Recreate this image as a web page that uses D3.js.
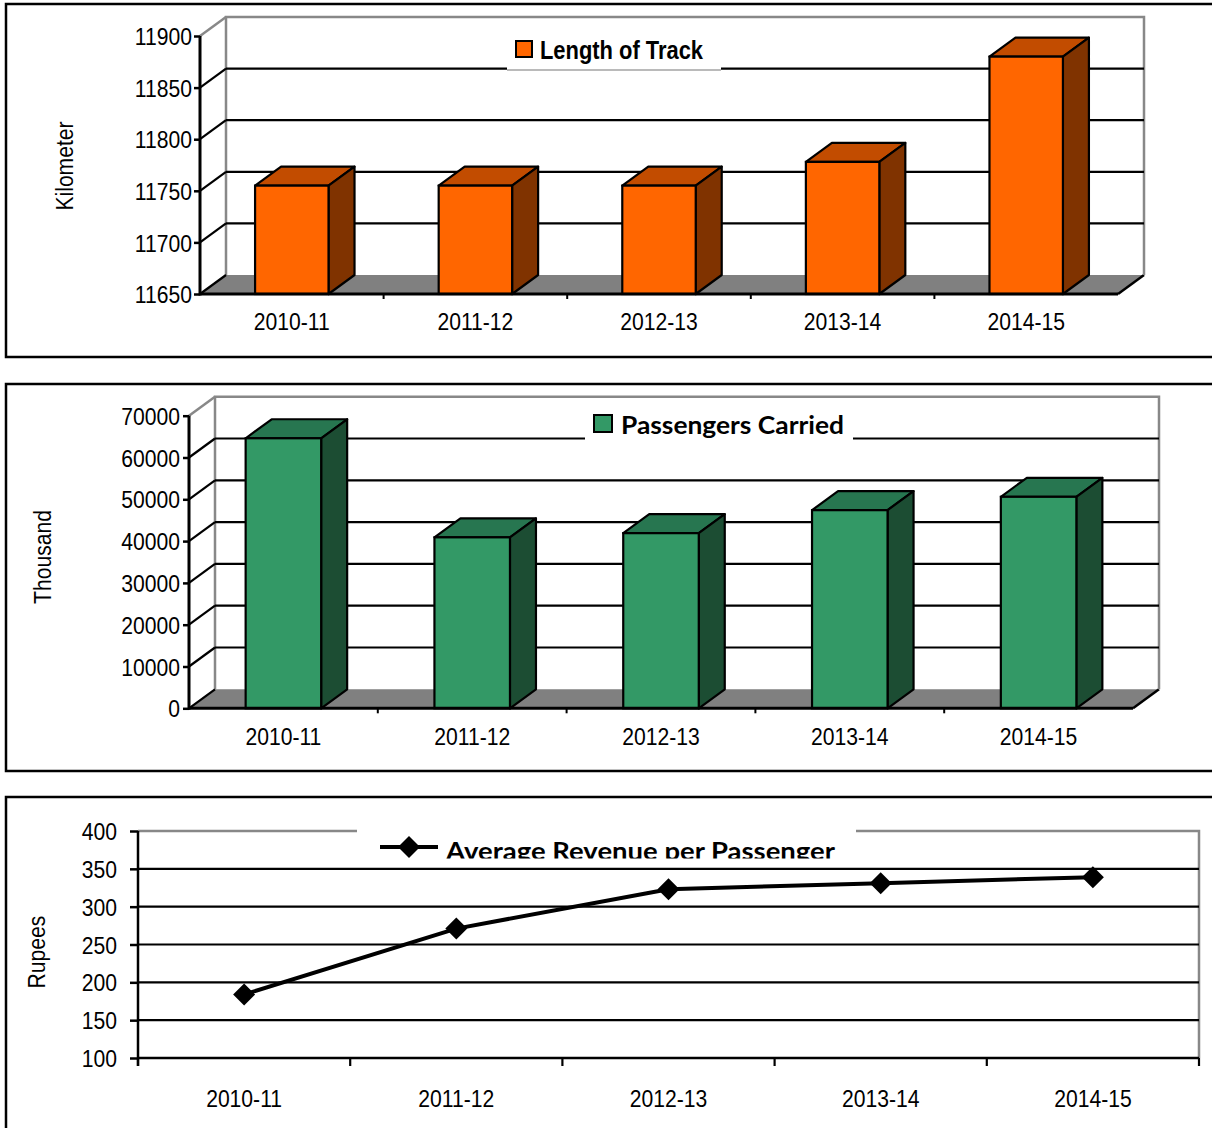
<!DOCTYPE html>
<html>
<head>
<meta charset="utf-8">
<script src="https://cdn.jsdelivr.net/npm/d3@7"></script>
<style>
  html, body { margin: 0; padding: 0; background: #fff; }
  svg { display: block; }
</style>
</head>
<body>
<script>
// ---- data ----
const years = ["2010-11", "2011-12", "2012-13", "2013-14", "2014-15"];
const trackLength = [11755, 11755, 11755, 11778, 11880];          // km
const passengersCarried = [64600, 40900, 41900, 47400, 50600];    // thousand
const revenuePerPassenger = [184, 271, 323, 331, 339];            // rupees
const trackTicks = [11650, 11700, 11750, 11800, 11850, 11900];
const passengerTicks = [0, 10000, 20000, 30000, 40000, 50000, 60000, 70000];
const revenueTicks = [100, 150, 200, 250, 300, 350, 400];

// ---- setup ----
const W = 1212, H = 1128;
const FONT = "'Liberation Sans', Arial, sans-serif";
const SX = 0.88;                       // condensed text
const svg = d3.select("body").append("svg").attr("width", W).attr("height", H);

function frame(y, h) {
  svg.append("rect").attr("x", 6).attr("y", y).attr("width", 1240).attr("height", h)
    .attr("fill", "none").attr("stroke", "#000").attr("stroke-width", 2.5);
}
function rotTitle(x, y, t) {
  svg.append("text").attr("transform", `translate(${x},${y}) rotate(-90) scale(${SX},1)`)
    .attr("text-anchor", "middle").attr("font-family", FONT).attr("font-size", 24)
    .attr("fill", "#000").text(t);
}
function styleLeftAxis(g, labelGap) {
  g.select(".domain").remove();
  g.selectAll(".tick line").attr("stroke", "#000").attr("stroke-width", 2.5);
  g.selectAll(".tick text")
    .attr("x", -labelGap / SX).attr("dy", "0.36em")
    .attr("transform", `scale(${SX},1)`)
    .attr("font-family", FONT).attr("font-size", 24).attr("fill", "#000");
}
function styleCatAxis(g, baselineOffset) {
  g.select(".domain").remove();
  g.selectAll(".tick line").remove();
  g.selectAll(".tick text")
    .attr("y", baselineOffset).attr("dy", 0)
    .attr("transform", `scale(${SX},1)`)
    .attr("font-family", FONT).attr("font-size", 24).attr("fill", "#000");
}

frame(4, 353);
frame(384, 387);
frame(797, 400);

// ---- 3D column chart ----
function columns3d(c) {
  const g = svg.append("g");
  const dx = 26, dy = 19;
  const y = d3.scaleLinear().domain([c.ticks[0], c.ticks[c.ticks.length - 1]]).range([c.yBase, c.yTop]);
  const xCat = d3.scaleBand().domain(years).range([c.x0, c.x1]);
  const x = d3.scaleBand().domain(years).range([c.x0, c.x1]).paddingInner(0.6).paddingOuter(0.3);
  const top = y(c.ticks[c.ticks.length - 1]);

  // floor
  g.append("polygon")
    .attr("points", [[c.x0, c.yBase], [c.x1, c.yBase], [c.x1 + dx, c.yBase - dy], [c.x0 + dx, c.yBase - dy]].join(" "))
    .attr("fill", "#808080").attr("stroke", "none");
  g.append("line").attr("x1", c.x0).attr("y1", c.yBase).attr("x2", c.x0 + dx).attr("y2", c.yBase - dy)
    .attr("stroke", "#a0a0a0").attr("stroke-width", 1.5);
  g.append("line").attr("x1", c.x1).attr("y1", c.yBase).attr("x2", c.x1 + dx).attr("y2", c.yBase - dy)
    .attr("stroke", "#000").attr("stroke-width", 2.5);

  // back wall edges
  g.append("path")
    .attr("d", `M${c.x0 + dx},${c.yBase - dy}V${top - dy}H${c.x1 + dx}V${c.yBase - dy}`)
    .attr("fill", "none").attr("stroke", "#888").attr("stroke-width", 2.5);
  g.append("line").attr("x1", c.x0).attr("y1", top).attr("x2", c.x0 + dx).attr("y2", top - dy)
    .attr("stroke", "#888").attr("stroke-width", 2.5);

  // gridlines on back and side walls
  c.ticks.slice(1, -1).forEach(t => {
    const yy = y(t);
    g.append("line").attr("x1", c.x0 + dx).attr("y1", yy - dy).attr("x2", c.x1 + dx).attr("y2", yy - dy)
      .attr("stroke", "#000").attr("stroke-width", 2.2);
    g.append("line").attr("x1", c.x0).attr("y1", yy).attr("x2", c.x0 + dx).attr("y2", yy - dy)
      .attr("stroke", "#000").attr("stroke-width", 2.2);
  });
  g.append("line").attr("x1", c.x0).attr("y1", c.yBase).attr("x2", c.x0 + dx).attr("y2", c.yBase - dy)
    .attr("stroke", "#000").attr("stroke-width", 2.2);

  // legend
  const L = c.legend;
  g.append("rect").attr("x", L.bx0).attr("y", L.by0).attr("width", L.bx1 - L.bx0).attr("height", L.by1 - L.by0)
    .attr("fill", "#fff");
  if (L.rule) {
    g.append("line").attr("x1", L.bx0).attr("y1", L.by1).attr("x2", L.bx1).attr("y2", L.by1)
      .attr("stroke", "#777").attr("stroke-width", 1.2);
  }
  g.append("rect").attr("x", L.sx).attr("y", L.sy).attr("width", L.sw).attr("height", L.sh)
    .attr("fill", c.front).attr("stroke", "#000").attr("stroke-width", 2);
  g.append("text").attr("x", L.tx).attr("y", L.ty)
    .attr("font-family", L.font).attr("font-weight", "bold").attr("font-size", L.size)
    .attr("textLength", L.tw).attr("lengthAdjust", "spacingAndGlyphs")
    .attr("fill", "#000").text(c.name);

  // columns
  const bw = x.bandwidth();
  const bars = g.selectAll("g.bar").data(years.map((d, i) => ({ year: d, v: c.values[i] })))
    .enter().append("g").attr("class", "bar");
  bars.append("polygon")
    .attr("points", d => {
      const bx = x(d.year), yt = y(d.v);
      return [[bx, yt], [bx + dx, yt - dy], [bx + bw + dx, yt - dy], [bx + bw, yt]].join(" ");
    })
    .attr("fill", c.top).attr("stroke", "#000").attr("stroke-width", 2.2).attr("stroke-linejoin", "round");
  bars.append("polygon")
    .attr("points", d => {
      const bx = x(d.year) + bw, yt = y(d.v);
      return [[bx, yt], [bx + dx, yt - dy], [bx + dx, c.yBase - dy], [bx, c.yBase]].join(" ");
    })
    .attr("fill", c.side).attr("stroke", "#000").attr("stroke-width", 2.2).attr("stroke-linejoin", "round");
  bars.append("rect")
    .attr("x", d => x(d.year)).attr("y", d => y(d.v))
    .attr("width", bw).attr("height", d => c.yBase - y(d.v))
    .attr("fill", c.front).attr("stroke", "#000").attr("stroke-width", 2.2);

  // front floor edge (category axis)
  g.append("line").attr("x1", c.x0).attr("y1", c.yBase).attr("x2", c.x1).attr("y2", c.yBase)
    .attr("stroke", "#000").attr("stroke-width", 3);
  years.slice(1).forEach(d => {
    g.append("line").attr("x1", xCat(d)).attr("y1", c.yBase).attr("x2", xCat(d)).attr("y2", c.yBase + 5)
      .attr("stroke", "#000").attr("stroke-width", 2);
  });
  const cat = g.append("g").attr("transform", `translate(0,${c.yBase})`)
    .call(d3.axisBottom(xCat).tickSize(0));
  styleCatAxis(cat, c.catBaseline - c.yBase);

  // value axis
  g.append("line").attr("x1", c.x0).attr("y1", top).attr("x2", c.x0).attr("y2", c.yBase + 1.5)
    .attr("stroke", "#000").attr("stroke-width", 3);
  const ax = g.append("g").attr("transform", `translate(${c.x0},0)`)
    .call(d3.axisLeft(y).tickValues(c.ticks).tickSize(6).tickFormat(d3.format("d")));
  styleLeftAxis(ax, c.labelGap);
}

columns3d({
  name: "Length of Track",
  values: trackLength, ticks: trackTicks,
  x0: 200, x1: 1118, yTop: 36, yBase: 294,
  front: "#ff6600", top: "#c24c00", side: "#803300",
  catBaseline: 330, labelGap: 8,
  legend: { bx0: 507, bx1: 721, by0: 26, by1: 70, rule: true,
            sx: 516, sy: 41, sw: 16, sh: 16,
            tx: 540, ty: 58.5, tw: 163, size: 25, font: FONT }
});
rotTitle(73, 166, "Kilometer");

columns3d({
  name: "Passengers Carried",
  values: passengersCarried, ticks: passengerTicks,
  x0: 189, x1: 1133, yTop: 415.7, yBase: 708.3,
  front: "#339966", top: "#277650", side: "#1c4d33",
  catBaseline: 745, labelGap: 9,
  legend: { bx0: 585, bx1: 853, by0: 405, by1: 441, rule: false,
            sx: 594, sy: 415, sw: 18, sh: 17,
            tx: 621, ty: 433.5, tw: 223, size: 25, font: "Lato, 'Open Sans', sans-serif" }
});
rotTitle(51, 557, "Thousand");

// ---- line chart ----
(function () {
  const x0 = 138, x1 = 1199, yTop = 831, yBase = 1058;
  const g = svg.append("g");
  const y = d3.scaleLinear().domain([100, 400]).range([yBase, yTop]);
  const x = d3.scaleBand().domain(years).range([x0, x1]);
  const cx = d => x(d) + x.bandwidth() / 2;

  // plot area border (top + right) and gridlines
  g.append("path").attr("d", `M${x0},${y(400)}H${x1}V${yBase}`)
    .attr("fill", "none").attr("stroke", "#888").attr("stroke-width", 2.5);
  revenueTicks.slice(1, -1).forEach(t => {
    g.append("line").attr("x1", x0).attr("y1", y(t)).attr("x2", x1).attr("y2", y(t))
      .attr("stroke", "#000").attr("stroke-width", 2.2);
  });

  // legend
  g.append("rect").attr("x", 357).attr("y", 822).attr("width", 499).attr("height", 36).attr("fill", "#fff");
  const clip = svg.append("clipPath").attr("id", "legclip");
  clip.append("rect").attr("x", 300).attr("y", 800).attr("width", 600).attr("height", 58.5);
  const leg = g.append("g").attr("clip-path", "url(#legclip)");
  leg.append("line").attr("x1", 380).attr("y1", 847).attr("x2", 438).attr("y2", 847)
    .attr("stroke", "#000").attr("stroke-width", 4);
  leg.append("path").attr("d", "M409,836L420,847L409,858L398,847Z").attr("fill", "#000");
  leg.append("text").attr("x", 446).attr("y", 859.5)
    .attr("font-family", "Lato, 'Open Sans', sans-serif").attr("font-weight", "bold").attr("font-size", 25)
    .attr("textLength", 389).attr("lengthAdjust", "spacingAndGlyphs")
    .attr("fill", "#000").text("Average Revenue per Passenger");

  // series
  const pts = years.map((d, i) => [cx(d), y(revenuePerPassenger[i])]);
  g.append("path").attr("d", d3.line()(pts)).attr("fill", "none")
    .attr("stroke", "#000").attr("stroke-width", 4).attr("stroke-linejoin", "round");
  g.selectAll("path.mk").data(pts).enter().append("path").attr("class", "mk")
    .attr("d", p => `M${p[0]},${p[1] - 11}L${p[0] + 11},${p[1]}L${p[0]},${p[1] + 11}L${p[0] - 11},${p[1]}Z`)
    .attr("fill", "#000");

  // axes
  g.append("line").attr("x1", x0).attr("y1", yBase).attr("x2", x1).attr("y2", yBase)
    .attr("stroke", "#000").attr("stroke-width", 2.5);
  years.forEach(d => {
    g.append("line").attr("x1", x(d)).attr("y1", yBase).attr("x2", x(d)).attr("y2", yBase + 8)
      .attr("stroke", "#000").attr("stroke-width", 2.2);
  });
  g.append("line").attr("x1", x1).attr("y1", yBase).attr("x2", x1).attr("y2", yBase + 8)
    .attr("stroke", "#000").attr("stroke-width", 2.2);
  g.append("line").attr("x1", x0).attr("y1", yTop).attr("x2", x0).attr("y2", yBase + 8)
    .attr("stroke", "#000").attr("stroke-width", 2.5);
  const ay = g.append("g").attr("transform", `translate(${x0},0)`)
    .call(d3.axisLeft(y).tickValues(revenueTicks).tickSize(8));
  styleLeftAxis(ay, 21);
  const axc = g.append("g").attr("transform", `translate(0,${yBase})`)
    .call(d3.axisBottom(x).tickSize(0));
  styleCatAxis(axc, 1107 - yBase);
})();
rotTitle(45, 952, "Rupees");
</script>
</body>
</html>
